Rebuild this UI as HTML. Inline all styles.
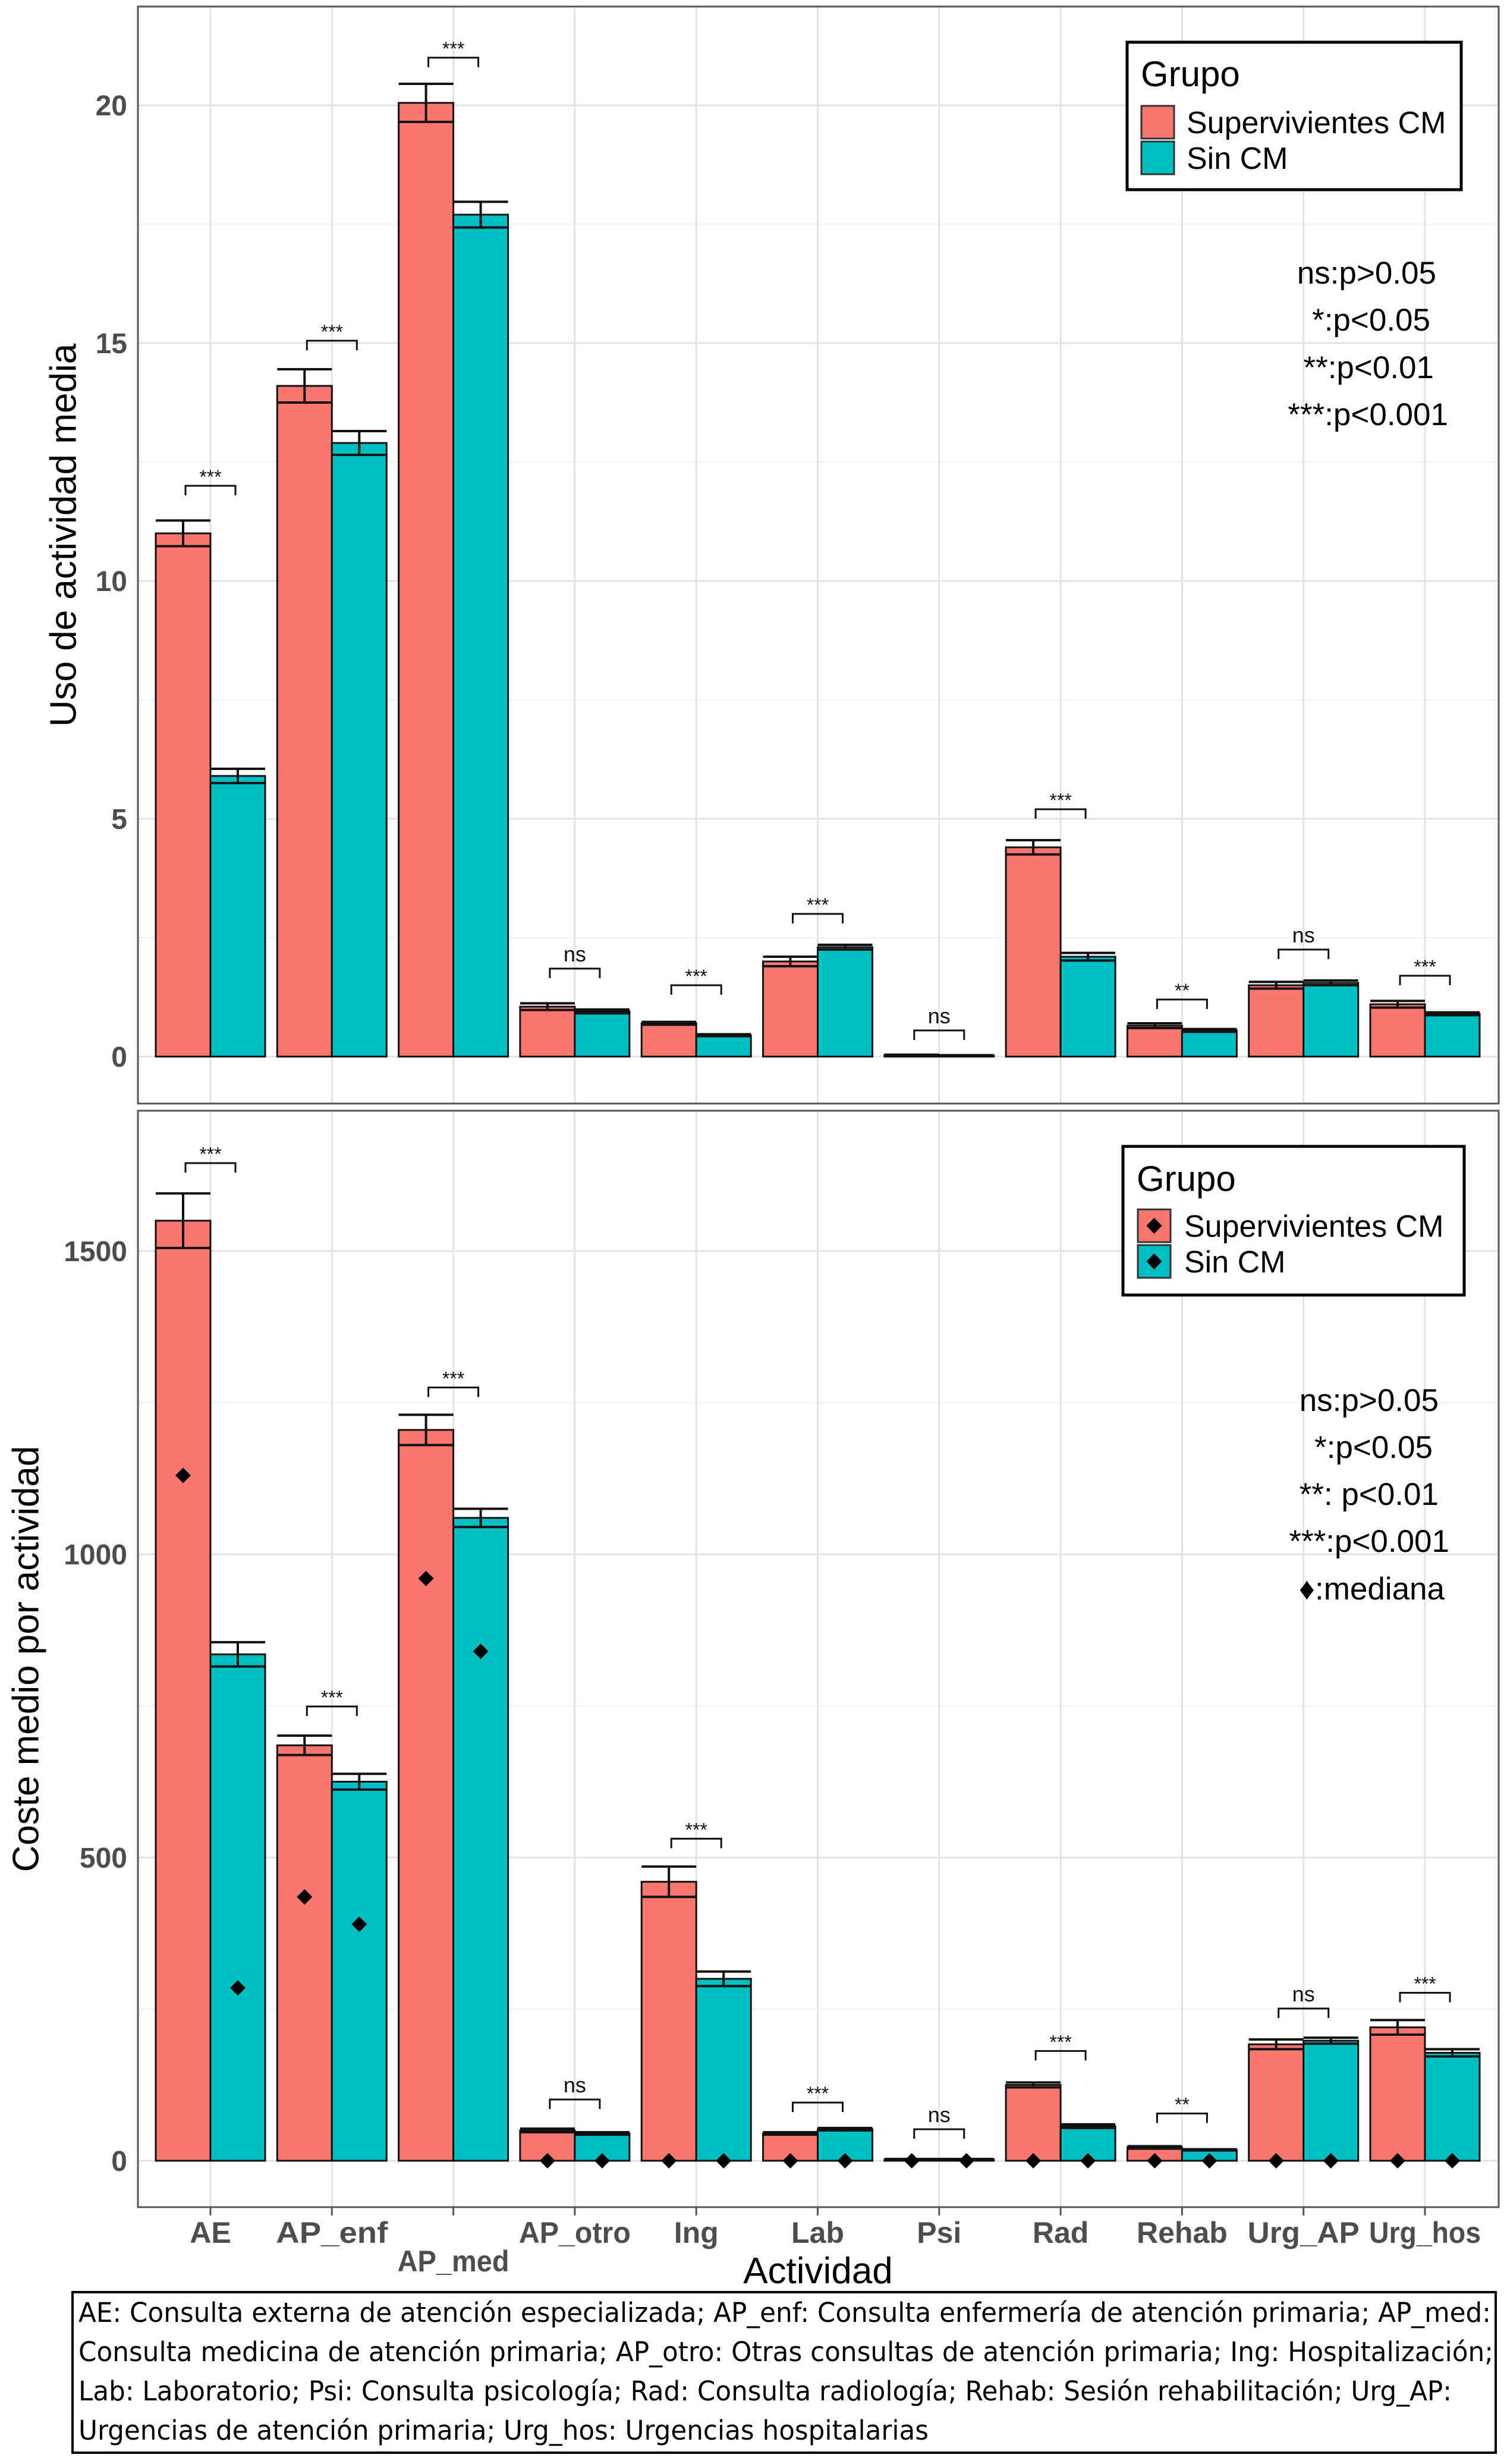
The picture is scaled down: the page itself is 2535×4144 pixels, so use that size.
<!DOCTYPE html>
<html><head><meta charset="utf-8">
<style>
html,body{margin:0;padding:0;background:#fff;}
svg{display:block;font-family:"Liberation Sans",Arial,sans-serif;}
</style></head>
<body>
<svg id="chart" width="2535" height="4144" viewBox="0 0 2535 4144" xmlns="http://www.w3.org/2000/svg">
  <g id="top"></g>
  <g id="bot"></g>
  <g>
    <rect x="1896" y="71" width="562" height="248" fill="#fff" stroke="#000" stroke-width="5"/>
    <text x="1919" y="145" font-size="60">Grupo</text>
    <rect x="1920" y="178" width="55" height="55" fill="#F8766D" stroke="#333" stroke-width="3"/>
    <rect x="1920" y="238" width="55" height="55" fill="#00BFC4" stroke="#333" stroke-width="3"/>
    <text x="1996" y="224" font-size="52">Supervivientes CM</text>
    <text x="1996" y="284" font-size="52">Sin CM</text>
  </g>
  <g font-size="53" text-anchor="end">
    <text x="2416" y="477">ns:p&gt;0.05</text>
    <text x="2406" y="556">*:p&lt;0.05</text>
    <text x="2412" y="636">**:p&lt;0.01</text>
    <text x="2436" y="715">***:p&lt;0.001</text>
  </g>
  <g>
    <rect x="1889" y="1928" width="574" height="250" fill="#fff" stroke="#000" stroke-width="5"/>
    <text x="1912" y="2003" font-size="60">Grupo</text>
    <rect x="1914" y="2034" width="55" height="55" fill="#F8766D" stroke="#333" stroke-width="3"/>
    <rect x="1914" y="2094" width="55" height="55" fill="#00BFC4" stroke="#333" stroke-width="3"/>
    <path d="M1941.5 2048 l13 13.5 l-13 13.5 l-13 -13.5z" fill="#000"/>
    <path d="M1941.5 2108 l13 13.5 l-13 13.5 l-13 -13.5z" fill="#000"/>
    <text x="1992" y="2080" font-size="52">Supervivientes CM</text>
    <text x="1992" y="2140" font-size="52">Sin CM</text>
  </g>
  <g font-size="53" text-anchor="end">
    <text x="2420" y="2373">ns:p&gt;0.05</text>
    <text x="2410" y="2452">*:p&lt;0.05</text>
    <text x="2420" y="2531">**: p&lt;0.01</text>
    <text x="2438" y="2610">***:p&lt;0.001</text>
    <text x="2430" y="2690">♦:mediana</text>
  </g>
  <text x="111" y="900" font-size="62" text-anchor="middle" transform="rotate(-90 111 900)" dominant-baseline="middle">Uso de actividad media</text>
  <text x="48" y="2790" font-size="62" text-anchor="middle" transform="rotate(-90 48 2790)" dominant-baseline="middle">Coste medio por actividad</text>
  <text x="1376" y="3840" font-size="62" text-anchor="middle">Actividad</text>
  <g font-size="45" font-family="'DejaVu Sans Condensed','Liberation Sans Narrow','Liberation Sans',sans-serif">
    <rect x="122" y="3855" width="2394" height="270" fill="#fff" stroke="#000" stroke-width="4"/>
    <text x="132" y="3905" textLength="2376" lengthAdjust="spacingAndGlyphs">AE: Consulta externa de atención especializada; AP_enf: Consulta enfermería de atención primaria; AP_med:</text>
    <text x="132" y="3971" textLength="2380" lengthAdjust="spacingAndGlyphs">Consulta medicina de atención primaria; AP_otro: Otras consultas de atención primaria; Ing: Hospitalización;</text>
    <text x="132" y="4037" textLength="2310" lengthAdjust="spacingAndGlyphs">Lab: Laboratorio; Psi: Consulta psicología; Rad: Consulta radiología; Rehab: Sesión rehabilitación; Urg_AP:</text>
    <text x="132" y="4103" textLength="1430" lengthAdjust="spacingAndGlyphs">Urgencias de atención primaria; Urg_hos: Urgencias hospitalarias</text>
  </g>
</svg>
<script>
const categories = ["AE","AP_enf","AP_med","AP_otro","Ing","Lab","Psi","Rad","Rehab","Urg_AP","Urg_hos"];
const sigLabels = ["***","***","***","ns","***","***","ns","***","**","ns","***"];
const useSup = [11.0,14.1,20.05,1.05,0.7,2.0,0.03,4.4,0.65,1.5,1.1];
const useSupErr = [0.27,0.35,0.4,0.07,0.03,0.1,0.01,0.15,0.05,0.07,0.07];
const useSin = [5.9,12.9,17.7,0.95,0.45,2.3,0.02,2.1,0.55,1.55,0.9];
const useSinErr = [0.15,0.25,0.27,0.04,0.02,0.05,0.01,0.08,0.03,0.05,0.03];
const useBracket = [12.0,15.05,21.0,1.85,1.5,3.0,0.55,5.2,1.2,2.25,1.7];
const useTicks = [0,5,10,15,20];
const costSup = [1550,685,1205,50,460,45,2,125,22,192,220];
const costSupErr = [45,16,25,3,25,2,1,4,2,8,12];
const costSin = [835,625,1060,45,300,52,2,57,18,198,178];
const costSinErr = [20,13,15,2,12,2,1,3,1,5,6];
const costSupMed = [1130,435,960,0,0,0,0,0,0,0,0];
const costSinMed = [285,390,840,0,0,0,0,0,0,0,0];
const costBracket = [1645,749,1275,101,531,96,52,181,78,251,277];
const costTicks = [0,500,1000,1500];

const NS="http://www.w3.org/2000/svg";
function mk(parent,tag,attrs){const e=document.createElementNS(NS,tag);for(const k in attrs)e.setAttribute(k,attrs[k]);parent.appendChild(e);return e;}
const xCenter = i => 354 + 204.3*i;
const BW = 92;

function panel(g, opt){
  const y = v => opt.y0 - v*opt.k;
  mk(g,'rect',{x:232,y:opt.top,width:2289,height:opt.bottom-opt.top,fill:'#fff'});
  for(let i=0;i<opt.ticks.length;i++){
    const mv = opt.ticks[i]+opt.step/2; const py=y(mv);
    if(py>opt.top) mk(g,'line',{x1:232,x2:2521,y1:py,y2:py,stroke:'#f0f0f0','stroke-width':2});
    const mv2 = opt.ticks[i]-opt.step/2; const py2=y(mv2);
    if(i===0 && py2<opt.bottom) mk(g,'line',{x1:232,x2:2521,y1:py2,y2:py2,stroke:'#f0f0f0','stroke-width':2});
  }
  opt.ticks.forEach(t=>{
    const py=y(t);
    mk(g,'line',{x1:232,x2:2521,y1:py,y2:py,stroke:'#e3e3e3','stroke-width':3});
    const tx=mk(g,'text',{x:214,y:py+17,'font-size':48,'font-weight':'bold',fill:'#4d4d4d','text-anchor':'end'});
    tx.textContent=t;
    
    
  });
  categories.forEach((c,i)=>mk(g,'line',{x1:xCenter(i),x2:xCenter(i),y1:opt.top,y2:opt.bottom,stroke:'#e3e3e3','stroke-width':3}));
  categories.forEach((c,i)=>{
    const cx=xCenter(i);
    [[opt.s,opt.se,'#F8766D',-1,opt.smed],[opt.c,opt.ce,'#00BFC4',0,opt.cmed]].forEach(([vals,errs,col,off,med],j)=>{
      const x0=cx+off*BW, v=vals[i], e=errs[i];
      const r=mk(g,'rect',{x:x0,y:y(v),width:BW,height:Math.max(1,y(0)-y(v)),fill:col,stroke:'#111','stroke-width':3});
      
      
      const eb=mk(g,'path',{d:`M${x0} ${y(v+e)}H${x0+BW}M${x0} ${y(v-e)}H${x0+BW}M${x0+BW/2} ${y(v+e)}V${y(v-e)}`,stroke:'#111','stroke-width':4,fill:'none'});
      
      
      if(med){
        const my=y(med[i]), mx=x0+BW/2;
        const d=mk(g,'path',{d:`M${mx} ${my-13}l13 13l-13 13l-13 -13z`,fill:'#000'});
        
        
      }
    });
    const by=y(opt.br[i]);
    const b=mk(g,'path',{d:`M${cx-BW/2+4} ${by+16}V${by}H${cx+BW/2-4}V${by+16}`,stroke:'#111','stroke-width':3,fill:'none'});
    
    
    const st=mk(g,'text',{x:cx,y:by-(sigLabels[i]==='ns'?12:4),'font-size':sigLabels[i]==='ns'?36:32,'text-anchor':'middle',fill:'#111'});
    st.textContent=sigLabels[i];
    
    
  });
  mk(g,'rect',{x:232,y:opt.top,width:2289,height:opt.bottom-opt.top,fill:'none',stroke:'#555','stroke-width':3});
}
panel(document.getElementById('top'),{top:11,bottom:1856,y0:1777,k:80,ticks:useTicks,step:5,s:useSup,se:useSupErr,c:useSin,ce:useSinErr,br:useBracket});
panel(document.getElementById('bot'),{top:1868,bottom:3712,y0:3634,k:(3634-2104)/1500,ticks:costTicks,step:500,s:costSup,se:costSupErr,c:costSin,ce:costSinErr,br:costBracket,smed:costSupMed,cmed:costSinMed});
const bg=document.getElementById('bot');
categories.forEach((c,i)=>{
  mk(bg,'line',{x1:xCenter(i),x2:xCenter(i),y1:3712,y2:3726,stroke:'#555','stroke-width':3});
  const t=mk(bg,'text',{x:xCenter(i),y:c==='AP_med'?3820:3772,'font-size':50,'font-weight':'bold',fill:'#4d4d4d','text-anchor':'middle'});
  if(c.length>=6){t.setAttribute('textLength',188);t.setAttribute('lengthAdjust','spacingAndGlyphs');}
  t.textContent=c;
  
  
});
</script>
</body></html>
